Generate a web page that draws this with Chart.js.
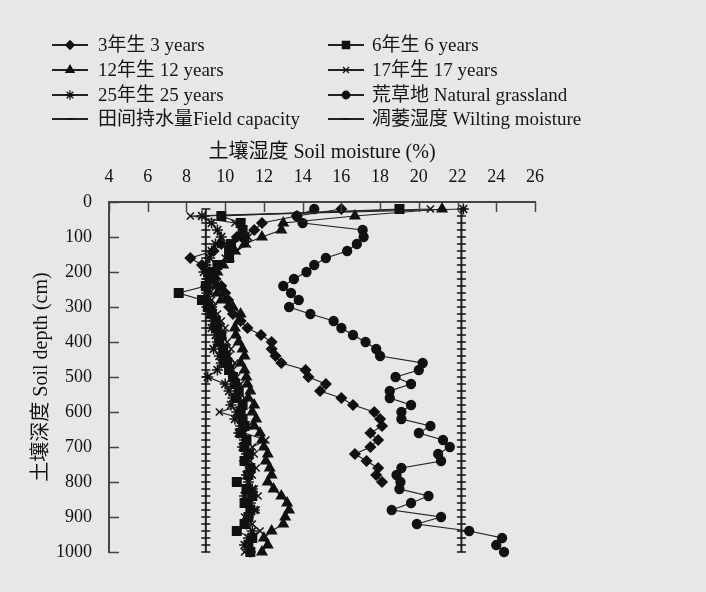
<!DOCTYPE html>
<html><head><meta charset="utf-8">
<script src="https://cdn.jsdelivr.net/npm/chart.js@4.4.1/dist/chart.umd.min.js"></script>
<style>
html,body{margin:0;padding:0;background:#e7e7e5;}
#wrap{position:relative;width:706px;height:592px;overflow:hidden;}
#c{position:absolute;left:0;top:0;}
.lg{position:absolute;height:24px;line-height:24px;font-family:"Liberation Serif","Noto Sans CJK SC",serif;font-size:19px;color:#161616;white-space:nowrap;}
.sym{position:absolute;}
</style></head><body>
<div id="wrap"><canvas id="c" width="706" height="592"></canvas></div>
<script>
// depth (cm)
const depths = [20,40,60,80,100,120,140,160,180,200,220,240,260,280,300,320,340,360,380,400,
  420,440,460,480,500,520,540,560,580,600,620,640,660,680,700,720,740,760,780,800,
  820,840,860,880,900,920,940,960,980,1000];
// soil moisture (%) by stand age
const years3 = [16.0,13.7,11.9,11.5,10.6,9.8,9.4,8.2,8.8,9.2,9.5,9.8,10.0,10.15,10.2,10.4,10.8,11.15,11.85,12.4,
  12.4,12.6,12.9,14.15,14.3,15.2,14.9,16.0,16.6,17.7,18.0,18.1,17.5,17.9,17.5,16.7,17.3,17.9,17.8,18.1];
const years6 = [19.0,9.8,10.8,10.9,11.0,10.3,10.2,10.2,9.6,9.4,9.2,9.0,7.6,8.8,9.1,9.3,9.5,9.6,9.8,9.7,
  9.9,10.0,10.1,10.2,10.4,10.5,10.7,10.6,10.9,10.8,10.9,11.0,10.8,11.1,11.0,11.2,11.0,11.3,11.2,10.6,
  11.1,11.4,11.0,11.3,11.2,11.0,10.6,11.4,11.2,11.3];
const years12 = [21.2,16.7,13.0,12.9,11.9,11.0,10.5,10.2,9.9,9.6,9.4,9.5,9.6,9.8,10.4,10.8,10.7,10.5,10.55,10.7,
  10.9,11.0,10.8,11.0,11.1,11.15,11.3,11.2,11.5,11.4,11.6,11.5,11.8,11.9,12.0,12.2,12.1,12.3,12.4,12.2,
  12.5,12.9,13.2,13.3,13.1,13.0,12.4,12.0,12.2,11.9];
const years17 = [20.6,8.2,10.5,10.8,11.2,11.15,10.6,10.0,9.6,9.3,9.1,9.2,9.0,9.3,9.4,9.6,9.8,10.0,9.9,10.1,
  10.3,10.2,10.5,10.4,10.6,10.8,10.7,11.0,10.9,9.7,10.9,11.2,11.0,12.1,11.4,11.5,11.3,11.6,11.4,11.2,
  11.5,11.7,11.3,11.6,11.0,11.4,11.8,11.2,11.3,11.0];
const years25 = [22.3,8.8,9.3,9.6,9.8,9.5,9.3,9.2,9.0,8.9,9.1,9.0,9.2,9.1,9.3,9.2,9.4,9.3,9.5,9.6,
  9.4,9.7,9.8,9.6,9.1,10.0,10.2,10.4,10.3,10.6,10.5,10.8,10.7,11.0,10.9,11.1,11.0,11.3,11.1,11.2,
  11.4,11.0,11.3,11.5,11.2,11.1,11.4,11.2,11.0,11.3];
const grassland = [14.6,13.7,14.0,17.1,17.15,16.8,16.3,15.2,14.6,14.2,13.55,13.0,13.4,13.8,13.3,14.4,15.6,16.0,16.6,17.25,
  17.8,18.0,20.2,20.0,18.8,19.6,18.5,18.5,19.6,19.1,19.1,20.6,20.0,21.25,21.6,21.0,21.15,19.1,18.85,19.05,
  19.0,20.5,19.6,18.6,21.15,19.9,22.6,24.3,24.0,24.4];
const fieldCapacity = 22.2;
const wiltingMoisture = 9.0;
const xTicks = [4,6,8,10,12,14,16,18,20,22,24,26];
const yTicks = [0,100,200,300,400,500,600,700,800,900,1000];
const legendLabels = ["3年生 3 years","6年生 6 years","12年生 12 years","17年生 17 years",
  "25年生 25 years","荒草地 Natural grassland","田间持水量Field capacity","凋萎湿度 Wilting moisture"];

const INK = '#111', LINE = '#222';
const FONT = '"Liberation Serif","Noto Sans CJK SC",serif';
function pts(vals){ return vals.map((v,i)=>({x:v, y:depths[i]})); }
function constPts(v){ return depths.map(d=>({x:v, y:d})); }

const seriesDefs = [
  {label:legendLabels[0], data:pts(years3), pointStyle:'rectRot', pointRadius:5},
  {label:legendLabels[1], data:pts(years6), pointStyle:'rect', pointRadius:6},
  {label:legendLabels[2], data:pts(years12), pointStyle:'triangle', pointRadius:5.5},
  {label:legendLabels[3], data:pts(years17), pointStyle:'crossRot', pointRadius:5},
  {label:legendLabels[4], data:pts(years25), pointStyle:'star', pointRadius:5.5},
  {label:legendLabels[5], data:pts(grassland), pointStyle:'circle', pointRadius:4.4},
  {label:legendLabels[6], data:constPts(fieldCapacity), pointStyle:'line', pointRadius:4.5, lw:2},
  {label:legendLabels[7], data:constPts(wiltingMoisture), pointStyle:'line', pointRadius:4.5, lw:2}
];
const datasets = seriesDefs.map(s=>({
  label:s.label, data:s.data, showLine:true, pointStyle:s.pointStyle, pointRadius:s.pointRadius,
  pointBackgroundColor:INK, pointBorderColor:INK, pointBorderWidth:1.5,
  borderColor:LINE, borderWidth:s.lw||1.2, tension:0, clip:false
}));

const inwardTicks = {
  id:'inwardTicks',
  afterDatasetsDraw(chart){
    const {ctx, chartArea:a, scales:{x,y}} = chart;
    ctx.save(); ctx.strokeStyle='#444'; ctx.lineWidth=1.5;
    x.ticks.forEach(t=>{ const px=Math.round(x.getPixelForValue(t.value))+0.5;
      ctx.beginPath(); ctx.moveTo(px,a.top); ctx.lineTo(px,a.top+10); ctx.stroke(); });
    y.ticks.forEach(t=>{ const py=Math.round(y.getPixelForValue(t.value))+0.5;
      ctx.beginPath(); ctx.moveTo(a.left,py); ctx.lineTo(a.left+10,py); ctx.stroke(); });
    ctx.restore();
  }
};

new Chart(document.getElementById('c'), {
  type:'scatter',
  data:{datasets},
  options:{
    responsive:false, animation:false, devicePixelRatio:1,
    layout:{padding:{left:0, top:125, right:171, bottom:40}},
    plugins:{legend:{display:false}, tooltip:{enabled:false}},
    scales:{
      x:{type:'linear', position:'top', min:4, max:26,
        afterBuildTicks:s=>{ s.ticks = xTicks.map(v=>({value:v})); },
        afterFit:s=>{ s.height = 77; },
        grid:{display:false}, border:{display:true, color:'#444', width:2},
        ticks:{color:INK, padding:6, font:{family:FONT, size:18}, callback:v=>String(v)},
        title:{display:true, text:'土壤湿度 Soil moisture (%)', color:INK, padding:{top:16,bottom:0}, font:{family:FONT, size:20}}
      },
      y:{type:'linear', reverse:true, min:0, max:1000,
        afterBuildTicks:s=>{ s.ticks = yTicks.map(v=>({value:v})); },
        afterFit:s=>{ s.width = 109; },
        grid:{display:false}, border:{display:true, color:'#444', width:2},
        ticks:{color:INK, padding:9, font:{family:FONT, size:18}, callback:v=>String(v)},
        title:{display:true, text:'土壤深度 Soil depth (cm)', color:INK, padding:{top:30,bottom:0}, font:{family:FONT, size:20}}
      }
    }
  },
  plugins:[inwardTicks]
});

// legend (HTML text, symbols drawn with Chart.js point helper)
const wrap = document.getElementById('wrap');
const rowsY = [45,70,94.5,118.5];
const colSym = [52,328], colText = [98,372];
seriesDefs.forEach((s,i)=>{
  const r = Math.floor(i/2), c = i%2;
  const cv = document.createElement('canvas');
  cv.width = 38; cv.height = 16; cv.className='sym';
  cv.style.left = colSym[c]+'px'; cv.style.top = (rowsY[r]-8)+'px';
  wrap.appendChild(cv);
  const g = cv.getContext('2d');
  g.strokeStyle = LINE; g.lineWidth = 2;
  g.beginPath(); g.moveTo(0,8); g.lineTo(36,8); g.stroke();
  g.fillStyle = INK; g.strokeStyle = INK; g.lineWidth = 1.3;
  if (Chart.helpers && Chart.helpers.drawPoint) {
    Chart.helpers.drawPoint(g, {pointStyle:s.pointStyle, radius:s.pointRadius*0.85, borderWidth:1.3, rotation:0}, 18, 8);
  }
  const d = document.createElement('div');
  d.className='lg'; d.textContent = s.label;
  d.style.left = colText[c]+'px'; d.style.top = (rowsY[r]-12)+'px';
  wrap.appendChild(d);
});
</script>
</body></html>
